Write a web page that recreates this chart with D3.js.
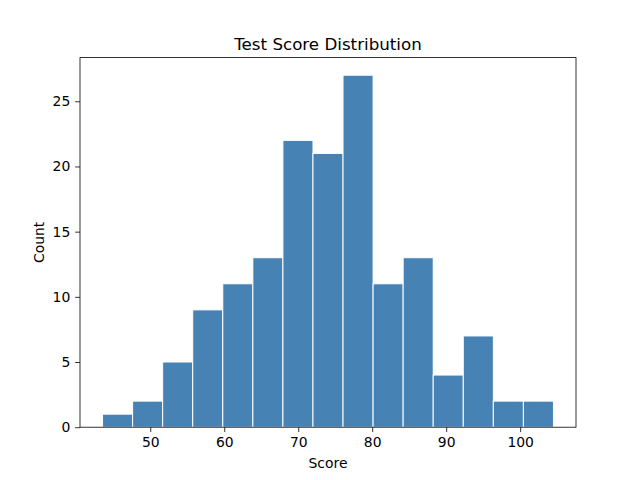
<!DOCTYPE html>
<html><head><meta charset="utf-8">
<script src="https://cdn.jsdelivr.net/npm/d3@7"></script>
<style>body{margin:0;background:#fff}svg{display:block}text{font-family:"DejaVu Sans",sans-serif;fill:#000}</style>
</head><body><svg id="c" width="640" height="480"></svg>
<script>
const counts = [1,2,5,9,11,13,22,21,27,11,13,4,7,2,2];
const dataMin = 43.55;
const dataMax = 104.5;
const xTicks = [50,60,70,80,90,100];
const yTicks = [0,5,10,15,20,25];
const title = "Test Score Distribution";
const xLabel = "Score";
const yLabel = "Count";

const W=640,H=480, L=80, R=576, T=57.6, B=427.2;
const svg=d3.select("#c");
const bw=(dataMax-dataMin)/counts.length;
const bins=counts.map((c,i)=>({x0:dataMin+i*bw,x1:dataMin+(i+1)*bw,c}));
const pad=(dataMax-dataMin)*0.05;
const x=d3.scaleLinear().domain([dataMin-pad,dataMax+pad]).range([L,R]);
const yMax=d3.max(counts)*1.05;
const y=d3.scaleLinear().domain([0,yMax]).range([B,T]);

svg.append("g").selectAll("rect").data(bins).join("rect")
 .attr("x",d=>x(d.x0)).attr("width",d=>x(d.x1)-x(d.x0))
 .attr("y",d=>y(d.c)).attr("height",d=>y(0)-y(d.c))
 .attr("fill","#4682b4").attr("stroke","#fff").attr("stroke-width",1);

const fs=13.9;
const xa=svg.append("g").attr("transform",`translate(0,${B})`)
 .call(d3.axisBottom(x).tickValues(xTicks).tickSize(4.86).tickPadding(4.86));
const ya=svg.append("g").attr("transform",`translate(${L},0)`)
 .call(d3.axisLeft(y).tickValues(yTicks).tickSize(4.86).tickPadding(4.86));
[xa,ya].forEach(a=>{a.select(".domain").remove();
 a.selectAll("line").attr("stroke","#000").attr("stroke-width",0.8);
 a.selectAll("text").attr("font-size",fs).attr("font-family","DejaVu Sans");});

svg.append("rect").attr("x",L).attr("y",T).attr("width",R-L).attr("height",B-T)
 .attr("fill","none").attr("stroke","#000").attr("stroke-width",0.8);

svg.append("text").attr("x",(L+R)/2).attr("y",T-8).attr("text-anchor","middle")
 .attr("font-size",16.7).text(title);
svg.append("text").attr("x",(L+R)/2).attr("y",468).attr("text-anchor","middle")
 .attr("font-size",fs).text(xLabel);
svg.append("text").attr("transform",`translate(44,${(T+B)/2}) rotate(-90)`).attr("text-anchor","middle")
 .attr("font-size",fs).text(yLabel);
</script></body></html>
